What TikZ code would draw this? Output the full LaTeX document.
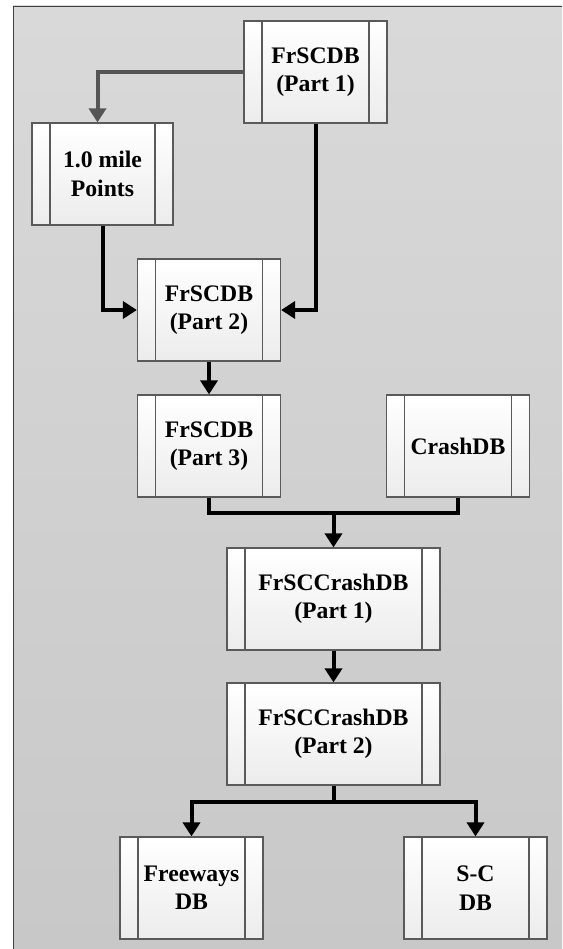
\documentclass[tikz,border=0pt]{standalone}
\usepackage{fontspec}
\setmainfont{Liberation Serif}
\usetikzlibrary{arrows.meta,calc}
\definecolor{panelTop}{HTML}{D9D9D9}
\definecolor{panelBot}{HTML}{C8C8C8}
\definecolor{boxLine}{HTML}{5A5A5A}
\definecolor{boxBot}{HTML}{ECECEC}
\definecolor{grayArrow}{HTML}{555555}
\tikzset{
  proc/.style={draw=boxLine, line width=1.2pt, top color=white, bottom color=boxBot,
    minimum width=143pt, minimum height=102pt, inner sep=0pt, align=center,
    font=\fontsize{23.7}{28.5}\selectfont\bfseries,
    path picture={
      \draw[boxLine, line width=1.2pt] ([xshift=18pt]path picture bounding box.north west) -- ([xshift=18pt]path picture bounding box.south west);
      \draw[boxLine, line width=1.2pt] ([xshift=-18pt]path picture bounding box.north east) -- ([xshift=-18pt]path picture bounding box.south east);
    }},
  wide/.style={minimum width=213pt},
  conn/.style={line width=4pt, draw=black, -{Triangle[width=17pt,length=14pt]}},
  connplain/.style={line width=4pt, draw=black},
}
\begin{document}
\begin{tikzpicture}[x=1pt,y=-1pt]
\useasboundingbox (0,0) rectangle (562,949);
\fill[white] (0,0) rectangle (562,949);
\shade[top color=panelTop, bottom color=panelBot] (13,6) rectangle (562,949);
\draw[black!75, line width=1.5pt] (13.5,949) -- (13.5,6.5) -- (562,6.5);

\node[proc] (p1) at (315.5,72) {FrSCDB\\(Part 1)};
\node[proc, minimum width=141pt] (pts) at (102.5,174) {1.0 mile\\Points};
\node[proc] (p2) at (209,310) {FrSCDB\\(Part 2)};
\node[proc] (p3) at (209,446) {FrSCDB\\(Part 3)};
\node[proc] (crash) at (458,446) {CrashDB};
\node[proc, wide] (c1) at (333.5,599) {FrSCCrashDB\\(Part 1)};
\node[proc, wide] (c2) at (333.5,734) {FrSCCrashDB\\(Part 2)};
\node[proc] (fw) at (191.5,888) {Freeways\\DB};
\node[proc] (sc) at (475.5,888) {S-C\\DB};

\coordinate (j1) at (333.5,513);
\coordinate (j2) at (333.5,802);

\draw[conn, draw=grayArrow] (p1.west) -| ([xshift=-5pt]pts.north);
\draw[conn] (pts.south) |- (p2.west);
\draw[conn] (p1.south) |- (p2.east);
\draw[conn] (p2.south) -- (p3.north);
\draw[connplain, line join=miter] (p3.south) |- (j1) -| (crash.south);
\draw[conn] (j1) -- (c1.north);
\draw[conn] (c1.south) -- (c2.north);
\draw[connplain] (c2.south) -- (j2);
\draw[conn] (j2) -| (fw.north);
\draw[conn] (j2) -| (sc.north);
\end{tikzpicture}
\end{document}
